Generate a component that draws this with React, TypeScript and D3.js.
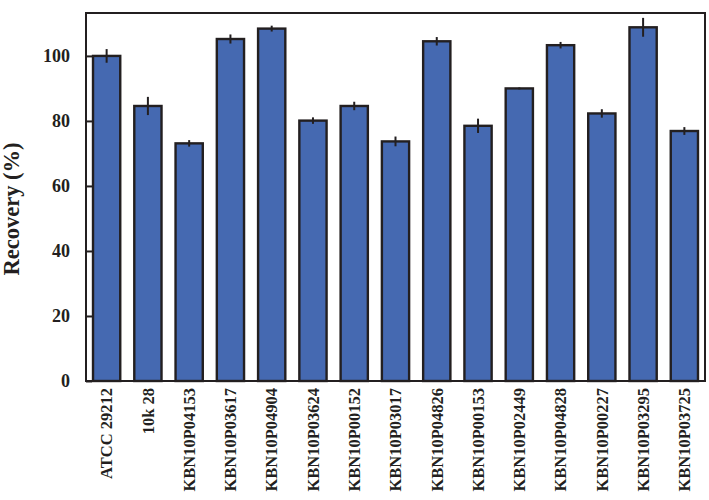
import React, { useRef, useEffect } from 'react';
import * as d3 from 'd3';

const strains = [
    'ATCC 29212', '10k 28', 'KBN10P04153', 'KBN10P03617', 'KBN10P04904',
    'KBN10P03624', 'KBN10P00152', 'KBN10P03017', 'KBN10P04826', 'KBN10P00153',
    'KBN10P02449', 'KBN10P04828', 'KBN10P00227', 'KBN10P03295', 'KBN10P03725',
];
const recovery = [100, 84.6, 73.1, 105.2, 108.4, 80.1, 84.6, 73.7, 104.5, 78.5, 90, 103.3, 82.3, 108.8, 76.9];
const errors = [2.1, 2.8, 1.0, 1.4, 0.9, 1.0, 1.3, 1.5, 1.3, 2.2, 0.3, 1.0, 1.3, 2.9, 1.2];
const yTicks = [0, 20, 40, 60, 80, 100];

export default function App() {
    const svgRef = useRef<SVGSVGElement>(null);

    const width = 709;
    const height = 500;
    const margin = { top: 13, right: 4, bottom: 119, left: 86 };

    useEffect(() => {
        if (!svgRef.current) return;
        const innerWidth = width - margin.left - margin.right;
        const innerHeight = height - margin.top - margin.bottom;

        const svg = d3.select(svgRef.current);
        svg.selectAll('*').remove();

        const g = svg.append('g')
            .attr('transform', `translate(${margin.left},${margin.top})`);

        const x = d3.scaleBand<string>()
            .domain(strains)
            .range([0, innerWidth])
            .paddingInner(0.34)
            .paddingOuter(0.17);

        const y = d3.scaleLinear()
            .domain([0, 113.2])
            .range([innerHeight, 0]);

        const font = '"Liberation Serif", "Times New Roman", serif';
        const ink = '#231f20';

        const rows = strains.map((s, i) => ({ s, v: recovery[i], e: errors[i] }));

        // bars
        g.selectAll('.bar')
            .data(rows)
            .enter()
            .append('rect')
            .attr('x', d => x(d.s) as number)
            .attr('y', d => y(d.v))
            .attr('width', x.bandwidth())
            .attr('height', d => innerHeight - y(d.v))
            .attr('fill', '#4569b1')
            .attr('stroke', ink)
            .attr('stroke-width', 2.4);

        // error bars (no caps)
        g.selectAll('.err')
            .data(rows)
            .enter()
            .append('line')
            .attr('x1', d => (x(d.s) as number) + x.bandwidth() / 2)
            .attr('x2', d => (x(d.s) as number) + x.bandwidth() / 2)
            .attr('y1', d => y(d.v + d.e))
            .attr('y2', d => y(d.v - d.e))
            .attr('stroke', ink)
            .attr('stroke-width', 2);

        // frame
        g.append('rect')
            .attr('x', 0)
            .attr('y', 0)
            .attr('width', innerWidth)
            .attr('height', innerHeight)
            .attr('fill', 'none')
            .attr('stroke', ink)
            .attr('stroke-width', 2);

        // y axis, ticks point inward
        const yAxis = g.append('g')
            .call(d3.axisLeft(y).tickValues(yTicks).tickSize(-6).tickPadding(16));
        yAxis.select('.domain').remove();
        yAxis.selectAll('.tick line').attr('stroke', ink).attr('stroke-width', 2);
        yAxis.selectAll('text')
            .attr('fill', ink)
            .attr('font-family', font)
            .attr('font-weight', 'bold')
            .attr('font-size', '18px');

        // x labels, rotated
        g.selectAll('.xlab')
            .data(strains)
            .enter()
            .append('text')
            .attr('transform', d => `translate(${(x(d) as number) + x.bandwidth() / 2},${innerHeight + 7}) rotate(-90)`)
            .attr('text-anchor', 'end')
            .attr('dy', '0.35em')
            .attr('fill', ink)
            .attr('font-family', font)
            .attr('font-weight', 'bold')
            .attr('font-size', '16.5px')
            .text(d => d);

        // y title
        svg.append('text')
            .attr('transform', `translate(19,${margin.top + innerHeight / 2 + 12}) rotate(-90)`)
            .attr('text-anchor', 'middle')
            .attr('fill', ink)
            .attr('font-family', font)
            .attr('font-weight', 'bold')
            .attr('font-size', '22.5px')
            .text('Recovery (%)');
    }, []);

    return (
        <div style={{ position: 'absolute', left: 0, top: 0, background: '#fff' }}>
            <svg ref={svgRef} width={width} height={height} style={{ display: 'block' }} />
        </div>
    );
}
